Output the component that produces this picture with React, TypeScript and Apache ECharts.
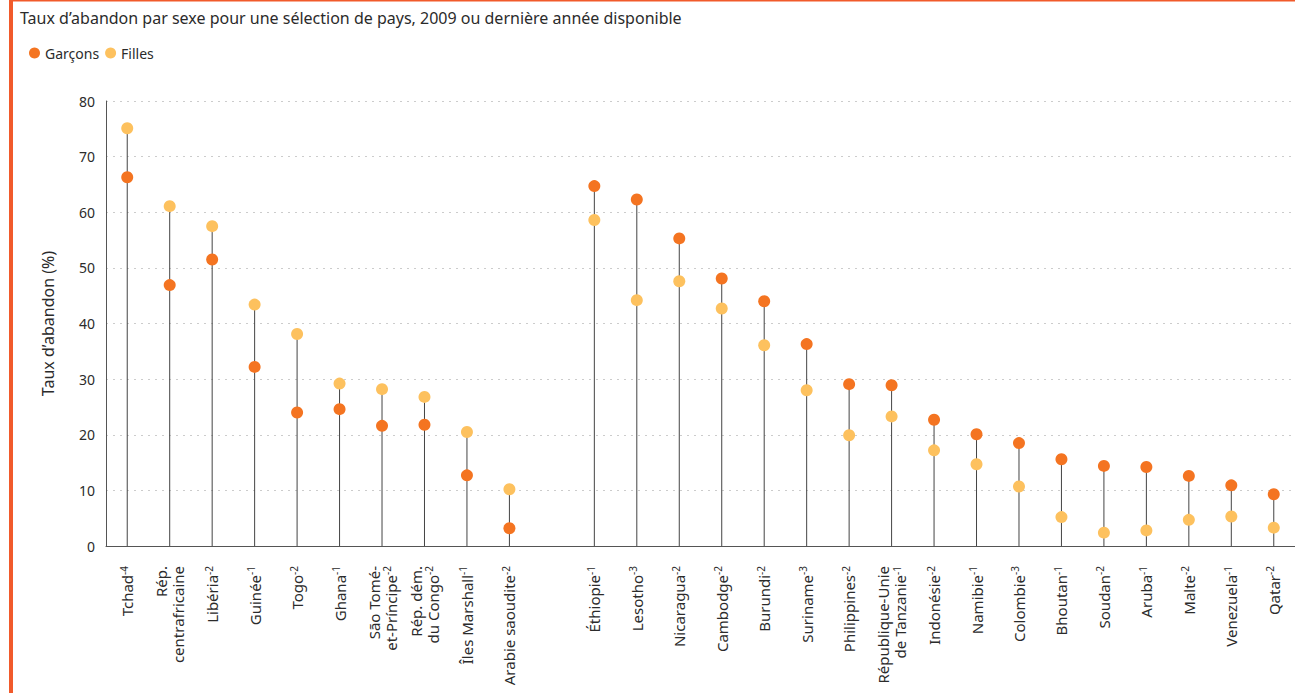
import React, { useEffect, useRef } from "react";
import * as echarts from "echarts";

const countries = [
  "Tchad", "Rép.\ncentrafricaine", "Libéria", "Guinée", "Togo", "Ghana",
  "São Tomé-\net-Príncipe", "Rép. dém.\ndu Congo", "Îles Marshall", "Arabie saoudite",
  "",
  "Éthiopie", "Lesotho", "Nicaragua", "Cambodge", "Burundi", "Suriname", "Philippines",
  "République-Unie\nde Tanzanie", "Indonésie", "Namibie", "Colombie", "Bhoutan", "Soudan",
  "Aruba", "Malte", "Venezuela", "Qatar",
];
const superscripts = [
  "-4", "", "-2", "-1", "-2", "-1", "-2", "-2", "-1", "-2",
  "",
  "-1", "-3", "-2", "-2", "-2", "-3", "-2", "-1", "-2", "-1", "-3", "-1", "-2",
  "-1", "-2", "-1", "-2",
];
const garcons: (number | null)[] = [
  66.3, 46.9, 51.5, 32.2, 24.0, 24.6, 21.6, 21.8, 12.7, 3.2,
  null,
  64.7, 62.3, 55.3, 48.1, 44.0, 36.3, 29.1, 28.9, 22.7, 20.1, 18.5, 15.6, 14.4,
  14.2, 12.6, 10.9, 9.3,
];
const filles: (number | null)[] = [
  75.1, 61.1, 57.5, 43.4, 38.1, 29.2, 28.2, 26.8, 20.5, 10.2,
  null,
  58.6, 44.2, 47.6, 42.7, 36.1, 28.0, 19.9, 23.3, 17.2, 14.7, 10.7, 5.2, 2.4,
  2.8, 4.7, 5.3, 3.3,
];
const yTicks = { min: 0, max: 80, interval: 10 };

const FONT = "'Noto Sans', 'Open Sans', sans-serif";
const C_G = "#F47421";
const C_F = "#FDC15E";
const TXT = "#2b2b2b";

export default function App() {
  const ref = useRef<HTMLDivElement>(null);
  useEffect(() => {
    if (!ref.current) return;
    const chart = echarts.init(ref.current, undefined, { renderer: "svg" });
    const stems = garcons.map((g, i) => {
      const f = filles[i];
      if (g == null && f == null) return null;
      return Math.max(g ?? 0, f ?? 0);
    });
    chart.setOption({
      animation: false,
      textStyle: { fontFamily: FONT },
      title: {
        text: "Taux d’abandon par sexe pour une sélection de pays, 2009 ou dernière année disponible",
        left: 20,
        top: 10,
        padding: 0,
        textStyle: { fontFamily: FONT, fontSize: 16, fontWeight: "normal", color: TXT },
      },
      legend: {
        left: 29,
        top: 46,
        padding: 0,
        icon: "circle",
        itemWidth: 11,
        itemHeight: 11,
        itemGap: 6,
        textStyle: { fontFamily: FONT, fontSize: 14, color: TXT },
        data: ["Garçons", "Filles"],
      },
      graphic: [
        { type: "rect", shape: { x: 9, y: 0, width: 4, height: 693 }, style: { fill: "#F15A2B" }, silent: true },
        { type: "rect", shape: { x: 9, y: 0, width: 1290, height: 1.5 }, style: { fill: "#F15A2B" }, silent: true },
      ],
      grid: { left: 106, top: 101, width: 1190, height: 445 },
      xAxis: {
        type: "category",
        data: countries,
        boundaryGap: true,
        axisLine: { show: true, lineStyle: { color: "#555", width: 1 } },
        axisTick: { show: false },
        axisLabel: {
          interval: 0,
          rotate: 90,
          margin: 20,
          fontFamily: FONT,
          fontSize: 15,
          color: TXT,
          lineHeight: 17,
          formatter: (v: string, i: number) => {
            const s = superscripts[i];
            return s ? `${v}{sup|${s}}` : v;
          },
          rich: {
            sup: { fontSize: 10, fontFamily: FONT, color: TXT, verticalAlign: "top", lineHeight: 17 },
          },
        },
      },
      yAxis: {
        type: "value",
        min: yTicks.min,
        max: yTicks.max,
        interval: yTicks.interval,
        name: "Taux d’abandon (%)",
        nameLocation: "middle",
        nameGap: 50,
        nameTextStyle: { fontFamily: FONT, fontSize: 16, color: TXT },
        axisLine: { show: true, lineStyle: { color: "#555", width: 1 } },
        axisTick: { show: false },
        axisLabel: { fontFamily: FONT, fontSize: 14, color: TXT, margin: 11 },
        splitLine: { show: true, lineStyle: { color: "#ccc", type: [2, 5], width: 1 } },
      },
      series: [
        {
          type: "bar",
          name: "stem",
          data: stems,
          barWidth: 1,
          itemStyle: { color: "#444" },
          silent: true,
          z: 1,
        },
        {
          type: "scatter",
          name: "Garçons",
          data: garcons,
          symbol: "circle",
          symbolSize: 12,
          itemStyle: { color: C_G, opacity: 1 },
          z: 3,
        },
        {
          type: "scatter",
          name: "Filles",
          data: filles,
          symbol: "circle",
          symbolSize: 12,
          itemStyle: { color: C_F, opacity: 1 },
          z: 3,
        },
      ],
    });
    return () => chart.dispose();
  }, []);
  return (
    <div
      ref={ref}
      style={{ position: "fixed", left: 0, top: 0, width: 1295, height: 693, background: "#fff" }}
    />
  );
}
